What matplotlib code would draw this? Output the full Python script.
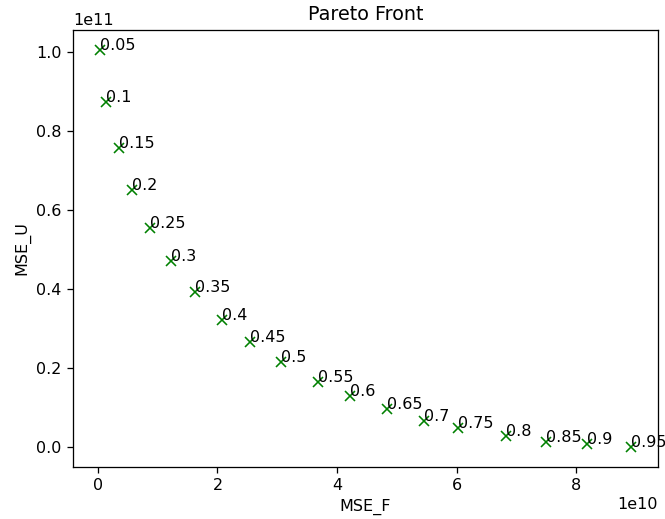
import numpy as np
import matplotlib.pyplot as plt

weights = [0.05, 0.1, 0.15, 0.2, 0.25, 0.3, 0.35, 0.4, 0.45, 0.5,
           0.55, 0.6, 0.65, 0.7, 0.75, 0.8, 0.85, 0.9, 0.95]
mse_f = np.array([0.03, 0.13, 0.35, 0.58, 0.87, 1.23, 1.62, 2.08, 2.55, 3.07,
                  3.68, 4.22, 4.83, 5.45, 6.02, 6.83, 7.50, 8.18, 8.92]) * 1e10
mse_u = np.array([1.005, 0.874, 0.756, 0.650, 0.554, 0.471, 0.393, 0.322, 0.267, 0.217,
                  0.166, 0.131, 0.098, 0.068, 0.050, 0.030, 0.015, 0.008, 0.002]) * 1e11

dpi = 115
fig = plt.figure(figsize=(665 / dpi, 519 / dpi), dpi=dpi)
ax = fig.add_axes([73 / 665, 1 - 466.5 / 519, 585 / 665, 436.5 / 519])
ax.plot(mse_f, mse_u, 'gx')
for w, x, y in zip(weights, mse_f, mse_u):
    ax.annotate(str(w), (x, y))
ax.set_title('Pareto Front')
ax.set_xlabel('MSE_F')
ax.set_ylabel('MSE_U')
fig.savefig('out.png', dpi=dpi)
